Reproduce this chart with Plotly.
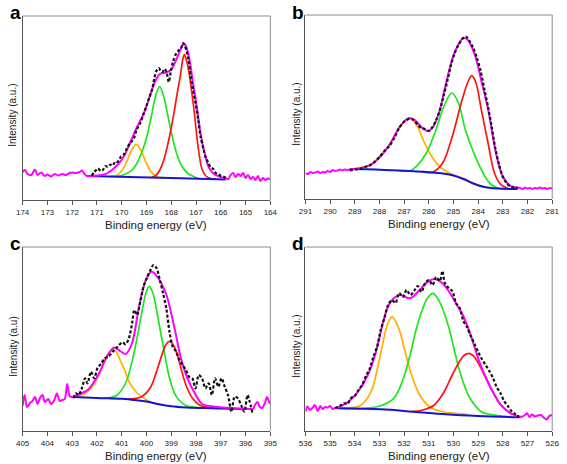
import plotly.graph_objects as go

# ---------------- Panel a (S 2p) ----------------
A_NL_X = [174.0, 173.9, 173.8, 173.65, 173.5, 173.4, 173.25, 173.1, 173.0, 172.85, 172.7, 172.55, 172.4, 172.25, 172.1, 172.0, 171.85, 171.7, 171.6, 171.5]
A_NL_Y = [28, 30, 26, 25, 30.5, 25, 27.5, 24, 25.5, 23.5, 26, 24.5, 26, 25, 27, 27.5, 27, 28, 29.5, 26]
A_FIT_X = [171.4, 171.0, 170.7, 170.5, 170.3, 170.1, 169.9, 169.65, 169.4, 169.12, 168.86, 168.66, 168.46, 168.2, 168.0, 167.8, 167.61, 167.5, 167.39, 167.26, 167.12, 166.95, 166.82, 166.65, 166.5, 166.3, 166.03, 165.8]
A_FIT_Y = [24, 24.5, 25.5, 28, 32, 37, 44, 58, 72, 86, 104, 118, 126, 127.5, 130.5, 140, 151.5, 156.5, 153, 140, 117, 90, 67, 46.7, 33.5, 26.5, 23, 21.5]
A_NR_X = [165.7, 165.6, 165.5, 165.4, 165.3, 165.2, 165.1, 165.0, 164.9, 164.8, 164.7, 164.6, 164.5, 164.4, 164.3, 164.2, 164.1, 164.0]
A_NR_Y = [21, 25, 27, 23, 26, 24, 27, 22, 25, 21, 23, 20, 24, 19, 22, 20, 21.5, 21]
A_RAW_X = [171.22, 171.1, 170.96, 170.85, 170.76, 170.65, 170.57, 170.45, 170.37, 170.25, 170.17, 170.04, 169.9, 169.78, 169.65, 169.52, 169.4, 169.25, 169.12, 169.0, 168.88, 168.77, 168.68, 168.6, 168.5, 168.42, 168.36, 168.26, 168.18, 168.1, 168.02, 167.93, 167.81, 167.68, 167.6, 167.52, 167.45, 167.39, 167.3, 167.22, 167.15, 167.02, 166.91, 166.82, 166.69, 166.6, 166.5, 166.42, 166.3, 166.2, 166.1, 166.0, 165.9, 165.8]
A_RAW_Y = [24.3, 28, 31.5, 29, 30, 34, 33, 35.5, 34.5, 38.5, 38, 43, 46, 52, 57, 61, 70, 77, 86, 94, 103, 111, 122, 129, 132, 129, 128, 131, 127, 118, 128, 138, 146, 150, 152, 157, 154, 150, 140, 125, 114, 97, 80, 64, 50, 42, 37, 33, 31, 27, 26, 24, 23.5, 22]
A_O_X = [170.6, 170.4, 170.2, 170.0, 169.8, 169.6, 169.41, 169.2, 169.0, 168.8, 168.6, 168.4, 168.2]
A_O_Y = [23.5, 23.7, 24.8, 29.0, 38.2, 49.7, 55.7, 48.4, 36.6, 27.6, 23.6, 22.3, 22.0]
A_G_X = [170.2, 170.0, 169.8, 169.58, 169.4, 169.2, 169.0, 168.8, 168.65, 168.47, 168.3, 168.15, 168.0, 167.8, 167.6, 167.35, 167.1, 166.89]
A_G_Y = [23.3, 24.5, 26.5, 30, 36, 47, 62, 84, 102, 113.3, 103, 86, 68, 48, 35, 27, 23.5, 21.5]
A_R_X = [168.8, 168.6, 168.46, 168.3, 168.13, 168.0, 167.87, 167.75, 167.62, 167.54, 167.47, 167.4, 167.3, 167.2, 167.08, 166.95, 166.85, 166.76, 166.6, 166.4, 166.2]
A_R_Y = [22.5, 25, 30, 40, 56.7, 72, 90, 108, 126, 140, 145.5, 141, 130, 113, 90, 60, 42, 31, 24, 21.5, 20.8]
A_B_X = [171.4, 168.0, 165.8]
A_B_Y = [24, 22, 20.5]

# ---------------- Panel b (C 1s) ----------------
B_NL_X = [291.0, 290.9, 290.8, 290.7, 290.6, 290.5, 290.4, 290.3, 290.2, 290.1, 290.0, 289.9, 289.8, 289.7, 289.6, 289.5, 289.4, 289.3]
B_NL_Y = [26, 25, 27, 26, 26.5, 27.5, 26, 27, 26.5, 28, 27, 29, 28, 28.5, 29.5, 28.5, 29.5, 29]
B_FIT_X = [289.2, 288.74, 288.34, 287.95, 287.55, 287.22, 286.95, 286.8, 286.6, 286.45, 286.24, 286.04, 285.84, 285.58, 285.32, 285.05, 284.79, 284.59, 284.4, 284.12, 283.86, 283.6, 283.28, 283.01, 282.68, 282.3]
B_FIT_Y = [29.5, 31, 34.5, 42.7, 56, 71, 78.5, 81, 79.5, 76, 70.5, 68, 71.5, 87, 114, 140, 155, 161, 158.5, 143, 117, 90, 46, 23, 13, 11]
B_NR_X = [282.2, 282.1, 282.0, 281.9, 281.8, 281.7, 281.6, 281.5, 281.4, 281.3, 281.2, 281.1, 281.0]
B_NR_Y = [10, 11.5, 10.5, 11, 10, 11, 10.5, 11.5, 10.5, 11, 10, 11, 10.5]
B_RAW_X = [289.2, 289.0, 288.8, 288.6, 288.4, 288.2, 288.0, 287.8, 287.6, 287.4, 287.2, 287.0, 286.8, 286.6, 286.45, 286.3, 286.15, 286.0, 285.85, 285.7, 285.55, 285.4, 285.25, 285.1, 284.95, 284.8, 284.65, 284.5, 284.35, 284.2, 284.05, 283.9, 283.75, 283.6, 283.45, 283.3, 283.15, 283.0, 282.85, 282.7, 282.55, 282.4]
B_RAW_Y = [28.5, 29.5, 30, 32, 33.5, 37, 42, 48, 53, 61, 71, 77.5, 80, 79, 74, 71, 70, 68, 72, 79, 89, 103, 118, 134, 146, 154, 160, 162.5, 158, 151, 141, 128, 110, 92, 72, 50, 34, 22, 16, 12.5, 11.5, 11]
B_O_X = [289.2, 288.8, 288.4, 288.08, 287.8, 287.55, 287.2, 286.95, 286.76, 286.5, 286.23, 285.97, 285.57, 285.05, 284.6, 284.2, 283.8]
B_O_Y = [30, 31, 34, 40, 48, 56, 71, 78.5, 80.3, 74, 59.3, 46, 32.6, 24.5, 20.5, 16, 12.6]
B_G_X = [287.2, 286.76, 286.5, 286.1, 285.71, 285.4, 285.07, 284.8, 284.52, 284.12, 283.8, 283.5, 283.2, 282.9]
B_G_Y = [28.4, 28.2, 32.6, 46, 69.3, 92, 106, 96, 69.3, 42.6, 26, 15, 11, 10.2]
B_R_X = [286.3, 285.84, 285.44, 285.05, 284.65, 284.4, 284.26, 284.1, 283.87, 283.6, 283.34, 283.08, 282.8]
B_R_Y = [27.4, 27, 36, 62.6, 99.3, 118, 123.3, 117, 89, 56, 26, 14.3, 11]
B_B_X = [289.2, 288.5, 288.0, 287.5, 287.0, 286.5, 286.0, 285.5, 285.0, 284.6, 284.2, 283.8, 283.4, 283.0, 282.4]
B_B_Y = [30, 29.8, 29.3, 28.8, 28.2, 27.6, 26.8, 25.8, 23.5, 20, 15.5, 12.3, 10.8, 10.2, 10]

# ---------------- Panel c (N 1s) ----------------
C_NL_X = [405.0, 404.92, 404.82, 404.7, 404.6, 404.5, 404.4, 404.3, 404.2, 404.1, 403.97, 403.85, 403.72, 403.62, 403.5, 403.4, 403.3, 403.2, 403.1, 403.0]
C_NL_Y = [25, 36, 24, 28, 30, 34, 27, 33, 36, 29, 32, 27, 31, 37.5, 30, 31, 32, 47, 35, 34]
C_FIT_X = [402.94, 402.65, 402.35, 401.95, 401.56, 401.3, 401.04, 400.84, 400.58, 400.31, 400.05, 399.79, 399.53, 399.2, 398.87, 398.61, 398.35, 398.02, 397.75, 397.23, 396.44, 395.79]
C_FIT_Y = [34.5, 37.5, 41.5, 56, 76, 83.5, 79.5, 77, 88, 123, 149.5, 159.5, 153, 136.5, 103, 73, 53, 36.5, 27, 24.3, 22.7, 22]
C_NR_X = [395.7, 395.62, 395.52, 395.42, 395.33, 395.22, 395.13, 395.05, 395.0]
C_NR_Y = [22, 26, 29, 24, 23, 28, 34, 29, 27]
C_RAW_X = [402.94, 402.85, 402.74, 402.61, 402.48, 402.38, 402.24, 402.11, 401.98, 401.82, 401.69, 401.54, 401.36, 401.17, 400.97, 400.84, 400.71, 400.58, 400.49, 400.38, 400.25, 400.12, 399.99, 399.86, 399.72, 399.59, 399.46, 399.33, 399.2, 399.07, 398.94, 398.8, 398.67, 398.54, 398.41, 398.28, 398.15, 398.02, 397.89, 397.76, 397.62, 397.49, 397.36, 397.23, 397.1, 396.97, 396.84, 396.71, 396.57, 396.44, 396.31, 396.18, 396.05, 395.92, 395.85, 395.72]
C_RAW_Y = [32.7, 37.7, 36, 42.7, 52.7, 47.7, 59.3, 52.7, 62.7, 67.7, 72.7, 74.3, 79.3, 84.3, 88.7, 86.7, 92.7, 107.7, 121, 116, 129.3, 144.3, 152.7, 160, 166, 162.7, 151, 137.7, 122.7, 99.3, 84.3, 79.3, 71, 66, 61, 54.3, 52.7, 42.7, 56, 52.7, 42.7, 47.7, 36, 52.7, 44.3, 52.7, 44.3, 36, 19.3, 34.3, 32.7, 26, 19.3, 36, 31, 17.7]
C_O_X = [402.94, 402.6, 402.35, 402.09, 401.85, 401.69, 401.5, 401.32, 401.15, 401.04, 400.85, 400.71, 400.38, 400.0, 399.7, 399.3]
C_O_Y = [34.2, 36, 40, 48, 60, 71, 79, 81.3, 76, 69.6, 59, 49.6, 38, 31, 27.8, 26]
C_G_X = [401.8, 401.56, 401.17, 400.84, 400.58, 400.38, 400.18, 400.02, 399.89, 399.77, 399.66, 399.46, 399.26, 399.07, 398.8, 398.41, 398.02, 397.6]
C_G_Y = [32.8, 33, 36.3, 48, 69.6, 93, 119.6, 138, 144.6, 140, 129.6, 103, 76.3, 53, 34.6, 25.6, 23.6, 23.2]
C_R_X = [400.9, 400.51, 400.18, 399.85, 399.59, 399.33, 399.2, 399.07, 398.94, 398.8, 398.61, 398.41, 398.15, 397.88, 397.5, 397.1]
C_R_Y = [32, 32.3, 34.6, 43, 59.6, 79.6, 87, 89.6, 87, 79.6, 63, 46.3, 33, 26.3, 23.5, 23]
C_B_X = [402.94, 402.0, 401.0, 400.5, 400.0, 399.5, 399.0, 398.4, 397.7, 396.5, 395.8]
C_B_Y = [34, 33, 32.2, 31, 29.5, 26.8, 24.8, 23.6, 23, 22.3, 22]

# ---------------- Panel d (O 1s) ----------------
D_NL_X = [536.0, 535.92, 535.82, 535.72, 535.62, 535.5, 535.4, 535.3, 535.2, 535.1, 535.0, 534.9, 534.8]
D_NL_Y = [19.5, 24.5, 21, 23, 26, 20, 25, 22, 24, 23.5, 25, 22, 23]
D_FIT_X = [534.72, 534.26, 533.87, 533.47, 533.14, 532.88, 532.68, 532.42, 532.16, 531.76, 531.37, 531.04, 530.78, 530.45, 530.18, 529.86, 529.59, 529.26, 529.0, 528.74, 528.41, 528.08, 527.68, 527.29]
D_FIT_Y = [23.3, 29.3, 39.3, 56, 79.3, 106, 122.7, 132.7, 136, 132.7, 141, 149.3, 152, 147.7, 139.3, 126, 114.3, 92.7, 72.7, 56, 39.3, 26, 17.7, 14.3]
D_NR_X = [527.2, 527.1, 527.02, 526.92, 526.82, 526.7, 526.58, 526.46, 526.35, 526.22, 526.12, 526.0]
D_NR_Y = [14.5, 16, 17.7, 14, 16.5, 14.5, 15.5, 16, 13.5, 11.5, 15, 16]
D_RAW_X = [534.8, 534.6, 534.45, 534.3, 534.15, 534.0, 533.85, 533.7, 533.55, 533.4, 533.25, 533.1, 532.95, 532.8, 532.65, 532.5, 532.35, 532.2, 532.05, 531.9, 531.75, 531.6, 531.45, 531.3, 531.15, 531.0, 530.85, 530.7, 530.55, 530.45, 530.35, 530.2, 530.05, 529.9, 529.75, 529.6, 529.45, 529.3, 529.15, 529.0, 528.85, 528.7, 528.55, 528.4, 528.25, 528.1, 527.95, 527.8, 527.65, 527.5, 527.35]
D_RAW_Y = [23, 25, 28, 27, 33, 35, 41, 46, 55, 62, 74, 84, 101, 113, 126, 131, 128, 138, 134, 141, 136, 140, 145, 139, 148, 151, 146, 154, 150, 160, 148, 143, 140, 128, 123, 110, 104, 95, 87, 79, 72, 66, 60, 53, 44, 38, 30, 25, 20, 17, 14]
D_O_X = [534.6, 534.26, 533.74, 533.34, 533.08, 532.88, 532.68, 532.49, 532.22, 531.96, 531.7, 531.37, 530.97, 530.45, 529.92, 529.4]
D_O_Y = [22.6, 22.8, 26, 39.3, 62.7, 86, 106, 114.3, 102.7, 79.3, 56, 36, 24.3, 19.3, 17.7, 16.5]
D_G_X = [534.5, 533.6, 532.95, 532.42, 532.03, 531.76, 531.5, 531.24, 531.05, 530.84, 530.65, 530.45, 530.18, 529.92, 529.66, 529.33, 528.87, 528.34, 527.8]
D_G_Y = [22.6, 22.7, 25.3, 32.7, 52.7, 76, 102.7, 122.7, 133, 137.7, 133, 122.7, 102.7, 76, 52.7, 32.7, 19.3, 16, 14.5]
D_R_X = [531.7, 531.24, 530.78, 530.38, 530.05, 529.72, 529.55, 529.39, 529.23, 529.07, 528.74, 528.41, 528.08, 527.68, 527.29]
D_R_Y = [19.5, 21, 26, 39.3, 56, 71, 76, 77.7, 76, 71, 56, 39.3, 26, 17.7, 14.3]
D_B_X = [534.72, 532.95, 531.63, 530.32, 529.0, 527.29]
D_B_Y = [22.7, 21.7, 19.3, 16.7, 15, 13.7]

X_RANGES = [[174, 164], [291, 281], [405, 395], [536, 526]]
LETTERS = ["a", "b", "c", "d"]
Y_TITLES = ["Intensity (a.u.)", "Intensity (a.u.)", "Intensity (a.u)", "Intensity (a.u.)"]
X_TITLE = "Binding energy (eV)"

W, H = 567, 464
# plot boxes in pixels: (left, right, top, bottom)
BOXES = [(16, 270, 16, 200), (306, 559, 15, 199), (16, 270, 247, 431), (306, 559, 247, 431)]
LETTER_TOPS = [0, 0, 231, 231]

MAGENTA = "#FF00FF"
ORANGE = "#FFB000"
GREEN = "#1EE61E"
RED = "#FF1414"
BLUE = "#1414D2"
FONT = "Arial, Liberation Sans, sans-serif"

panels = [
    dict(nl=(A_NL_X, A_NL_Y), fit=(A_FIT_X, A_FIT_Y), nr=(A_NR_X, A_NR_Y), raw=(A_RAW_X, A_RAW_Y),
         o=(A_O_X, A_O_Y), g=(A_G_X, A_G_Y), r=(A_R_X, A_R_Y), b=(A_B_X, A_B_Y)),
    dict(nl=(B_NL_X, B_NL_Y), fit=(B_FIT_X, B_FIT_Y), nr=(B_NR_X, B_NR_Y), raw=(B_RAW_X, B_RAW_Y),
         o=(B_O_X, B_O_Y), g=(B_G_X, B_G_Y), r=(B_R_X, B_R_Y), b=(B_B_X, B_B_Y)),
    dict(nl=(C_NL_X, C_NL_Y), fit=(C_FIT_X, C_FIT_Y), nr=(C_NR_X, C_NR_Y), raw=(C_RAW_X, C_RAW_Y),
         o=(C_O_X, C_O_Y), g=(C_G_X, C_G_Y), r=(C_R_X, C_R_Y), b=(C_B_X, C_B_Y)),
    dict(nl=(D_NL_X, D_NL_Y), fit=(D_FIT_X, D_FIT_Y), nr=(D_NR_X, D_NR_Y), raw=(D_RAW_X, D_RAW_Y),
         o=(D_O_X, D_O_Y), g=(D_G_X, D_G_Y), r=(D_R_X, D_R_Y), b=(D_B_X, D_B_Y)),
]

fig = go.Figure()
layout = dict(width=W, height=H, margin=dict(l=0, r=0, t=0, b=0),
              paper_bgcolor="white", plot_bgcolor="white", showlegend=False,
              font=dict(family=FONT, color="#222"))
shapes = []
annotations = []

for i, p in enumerate(panels):
    n = "" if i == 0 else str(i + 1)
    xa, ya = "x" + n, "y" + n
    l, r, t, b = BOXES[i]

    def add(xy, color, width, dash=None, smooth=1.0):
        fig.add_trace(go.Scatter(x=xy[0], y=xy[1], mode="lines", xaxis=xa, yaxis=ya,
                                 line=dict(color=color, width=width, dash=dash,
                                           shape="spline", smoothing=smooth),
                                 hoverinfo="skip"))

    add(p["o"], ORANGE, 1.7)
    add(p["g"], GREEN, 1.7)
    add(p["r"], RED, 1.7)
    fig.add_trace(go.Scatter(x=p["b"][0], y=p["b"][1], mode="lines", xaxis=xa, yaxis=ya,
                             line=dict(color=BLUE, width=2, shape="spline"), hoverinfo="skip"))
    mx = list(p["nl"][0]) + list(p["fit"][0]) + list(p["nr"][0])
    my = list(p["nl"][1]) + list(p["fit"][1]) + list(p["nr"][1])
    add((mx, my), MAGENTA, 2.0, smooth=0.9)
    add(p["raw"], "#111111", 2.2, dash="3px,2px", smooth=0.8)

    layout["xaxis" + n] = dict(domain=[l / W, r / W], range=X_RANGES[i], anchor=ya,
                               tickmode="linear", tick0=X_RANGES[i][1], dtick=1,
                               ticks="outside", ticklen=4, tickwidth=1, tickcolor="#555",
                               showline=True, linecolor="#555", linewidth=1.3,
                               showgrid=False, zeroline=False,
                               tickfont=dict(size=8, color="#222", family=FONT))
    layout["yaxis" + n] = dict(domain=[1 - b / H, 1 - t / H], range=[0, 184], anchor=xa,
                               showticklabels=False, ticks="", showline=True,
                               linecolor="#555", linewidth=1.3,
                               showgrid=False, zeroline=False)
    # lighter top and right frame lines
    shapes.append(dict(type="line", xref=xa + " domain", yref=ya + " domain",
                       x0=0, x1=1, y0=1, y1=1, line=dict(color="#8c8c8c", width=1)))
    shapes.append(dict(type="line", xref=xa + " domain", yref=ya + " domain",
                       x0=1, x1=1, y0=0, y1=1, line=dict(color="#8c8c8c", width=1)))

    # panel letter
    annotations.append(dict(text="<b>%s</b>" % LETTERS[i], xref="paper", yref="paper",
                            x=(l - 16 + 1) / W if i % 2 == 0 else (l - 16) / W,
                            y=1 - LETTER_TOPS[i] / H, xanchor="left", yanchor="top",
                            showarrow=False, font=dict(size=19, color="#000", family=FONT)))
    # y title
    annotations.append(dict(text=Y_TITLES[i], xref="paper", yref="paper",
                            x=(l - 10) / W, y=1 - ((t + b) / 2 + 7) / H,
                            xanchor="center", yanchor="middle", textangle=-90,
                            showarrow=False, font=dict(size=10, color="#222", family=FONT)))
    # x title
    annotations.append(dict(text=X_TITLE, xref="paper", yref="paper",
                            x=((l + r) / 2 + 10) / W, y=1 - (b + 25) / H,
                            xanchor="center", yanchor="middle",
                            showarrow=False, font=dict(size=11.5, color="#222", family=FONT)))

layout["shapes"] = shapes
layout["annotations"] = annotations
fig.update_layout(**layout)
fig.write_html("out.html", config={"displayModeBar": False},
               post_script="document.body.style.margin='0';")
